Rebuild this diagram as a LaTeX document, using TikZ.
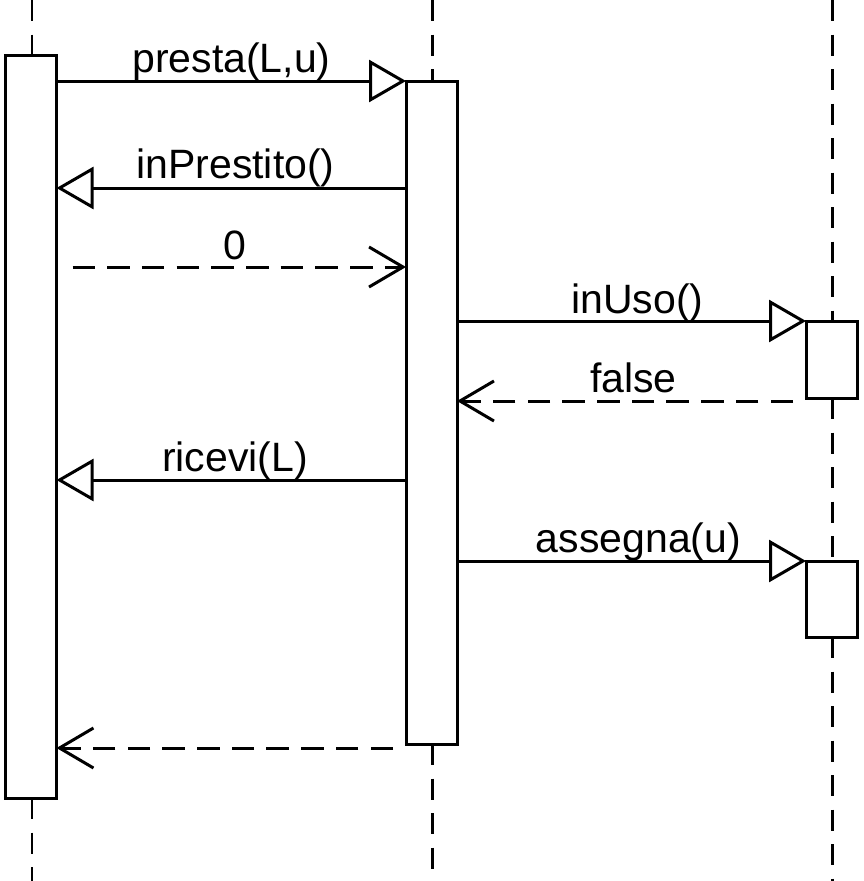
\documentclass[tikz,border=0pt]{standalone}
\usepackage{fontspec}
\setmainfont{Liberation Sans}
\usetikzlibrary{arrows.meta}
\begin{document}
\begin{tikzpicture}[x=1pt,y=-1pt,
  act/.style={draw, fill=white, line width=3pt, inner sep=0pt, outer sep=0pt, minimum width=51pt},
  life/.style={line width=2.8pt, dash pattern=on 21pt off 13.5pt},
  call/.style={line width=3pt, -{Triangle[length=37pt,width=42pt,fill=white]}},
  ret/.style={line width=3pt, dash pattern=on 22.5pt off 12.2pt, -{Straight Barb[length=34pt,width=40pt]}},
  lbl/.style={anchor=base, inner sep=0pt, font=\fontsize{41}{49}\selectfont}]
\useasboundingbox (0,0) rectangle (863,881);
% lifeline end points
\coordinate (Atop) at (32,0);
\coordinate (Abot) at (32,881);
\coordinate (Btop) at (432.5,0);
\coordinate (Bbot) at (432.5,881);
\coordinate (Ctop) at (832.5,0);
\coordinate (Cbot) at (832.5,881);
% activation boxes
\node[act, minimum height=743pt] (A) at (31,426.5) {};
\node[act, minimum height=663pt] (B) at (431.5,412.5) {};
\node[act, minimum height=77pt] (C1) at (831.5,359.5) {};
\node[act, minimum height=76pt] (C2) at (831.5,599) {};
% lifelines
\draw[life] (Atop) -- (Atop |- A.north);
\draw[life] (Atop |- A.south) -- (Abot);
\draw[life] (Btop) -- (Btop |- B.north);
\draw[life] (Btop |- B.south) -- (Bbot);
\draw[life] (Ctop) -- (Ctop |- C1.north);
\draw[life] (Ctop |- C1.south) -- (Ctop |- C2.north);
\draw[life] (Ctop |- C2.south) -- (Cbot);
% messages
\draw[call] (A.east |- 0,81) -- (B.north west);
\node[lbl] (m1) at (231.5,72.5) {presta(L,u)};
\draw[call] (B.west |- 0,188) -- (A.east |- 0,188);
\node[lbl] (m2) at (235.5,178.5) {inPrestito()};
\draw[ret, shorten <=16pt] (A.east |- 0,267) -- (B.west |- 0,267);
\node[lbl] (m3) at (235,259) {0};
\draw[call] (B.east |- 0,321) -- (C1.north west);
\node[lbl] (m4) at (637.5,313) {inUso()};
\draw[ret, shorten <=13pt] (C1.west |- 0,401) -- (B.east |- 0,401);
\node[lbl] (m5) at (633.5,392) {false};
\draw[call] (B.west |- 0,480) -- (A.east |- 0,480);
\node[lbl] (m6) at (235,471) {ricevi(L)};
\draw[call] (B.east |- 0,561) -- (C2.north west);
\node[lbl] (m7) at (638.5,552) {assegna(u)};
\draw[ret, shorten <=13pt] (B.west |- 0,748) -- (A.east |- 0,748);
\end{tikzpicture}
\end{document}
